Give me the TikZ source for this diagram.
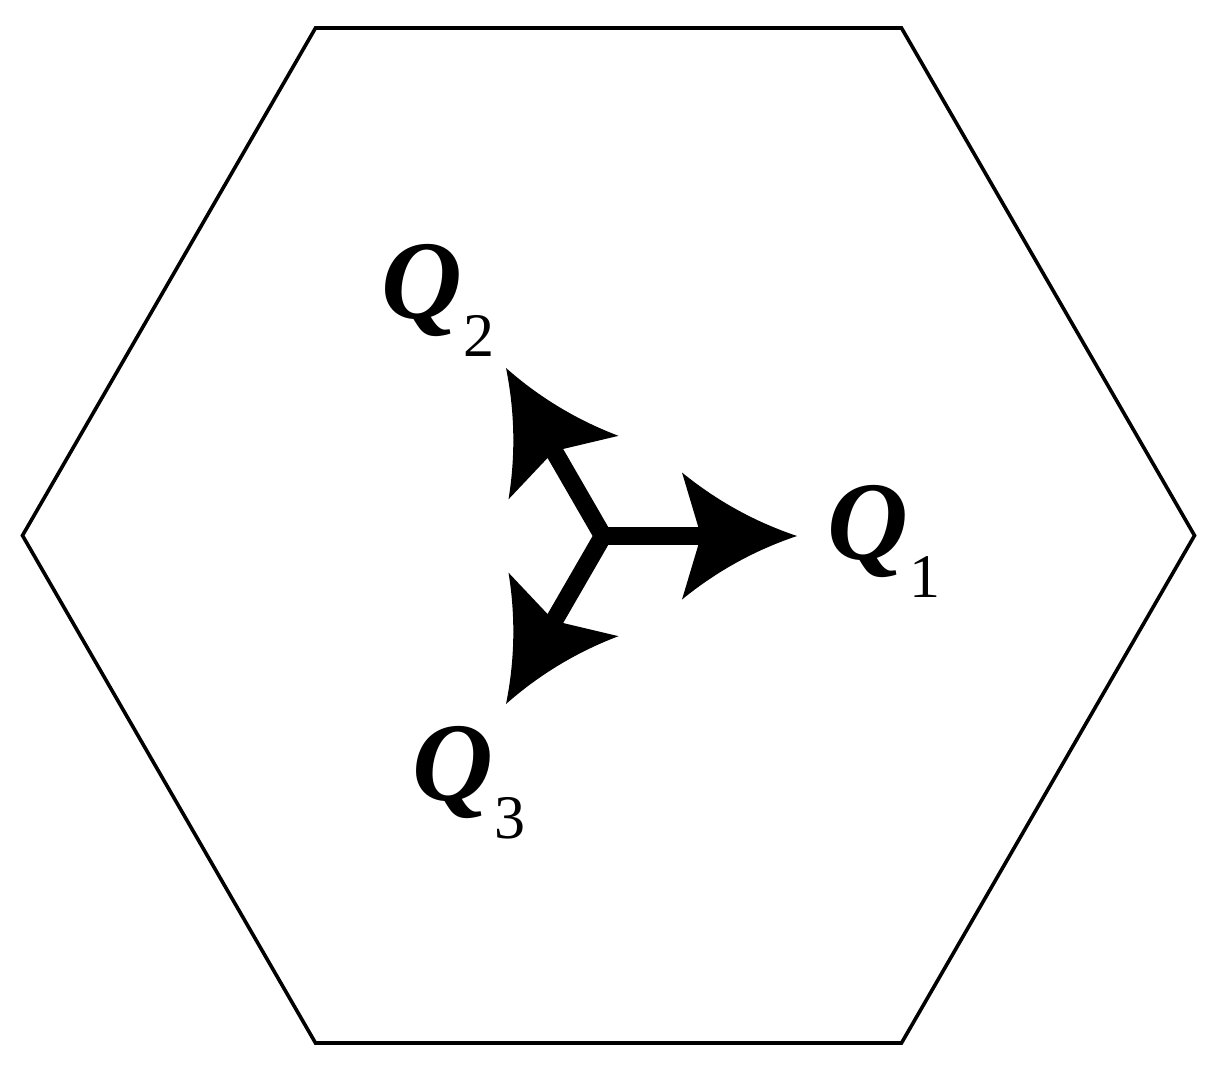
\documentclass[tikz,border=0pt]{standalone}
\usepackage{fontspec}
\setmainfont{Liberation Serif}

% concave arrow head
\pgfdeclarearrow{
  name = cusp,
  setup code = {
    \pgfarrowssettipend{0pt}
    \pgfarrowssetlineend{-45pt}
    \pgfarrowssetbackend{-57.5pt}
    \pgfarrowshullpoint{0pt}{0pt}
    \pgfarrowsupperhullpoint{-57.5pt}{31.75pt}
  },
  drawing code = {
    \pgfpathmoveto{\pgfpoint{0pt}{0pt}}
    \pgfpathquadraticcurveto{\pgfpoint{-31.6pt}{10.6pt}}{\pgfpoint{-57.5pt}{31.75pt}}
    \pgfpathlineto{\pgfpoint{-48pt}{0pt}}
    \pgfpathlineto{\pgfpoint{-57.5pt}{-31.75pt}}
    \pgfpathquadraticcurveto{\pgfpoint{-31.6pt}{-10.6pt}}{\pgfpoint{0pt}{0pt}}
    \pgfpathclose
    \pgfusepathqfill
  }
}

\newcommand{\qsub}[1]{{\fontsize{56}{56}\selectfont\bfseries\itshape Q}\hspace{1pt}\raisebox{-19pt}{\fontsize{31}{31}\selectfont #1}}

\begin{document}
\begin{tikzpicture}[x=0.5pt,y=0.5pt,
  hexline/.style={line width=1.8pt},
  vec/.style={line width=9pt,-cusp},
  qlabel/.style={inner sep=0pt}]

\useasboundingbox (0,0) rectangle (1218,1073);

% cell
\coordinate (hex) at (608.5,537.5);
\draw[hexline] (hex) ++(0:586) -- ++(120:586) -- ++(180:586) -- ++(240:586)
  -- ++(300:586) -- ++(0:586) -- cycle;

% vectors
\coordinate (o) at (603,537);
\path (o) ++(0:194) coordinate (t1);
\path (o) ++(120:194) coordinate (t2);
\path (o) ++(240:194) coordinate (t3);

\draw[vec] (o) -- (t1);
\draw[vec,cusp-cusp] (t2) -- (o) -- (t3);

\node[qlabel] (q1) at (884,532) {\qsub{1}};
\node[qlabel] (q2) at (438,773) {\qsub{2}};
\node[qlabel] (q3) at (469,290) {\qsub{3}};

\end{tikzpicture}
\end{document}
